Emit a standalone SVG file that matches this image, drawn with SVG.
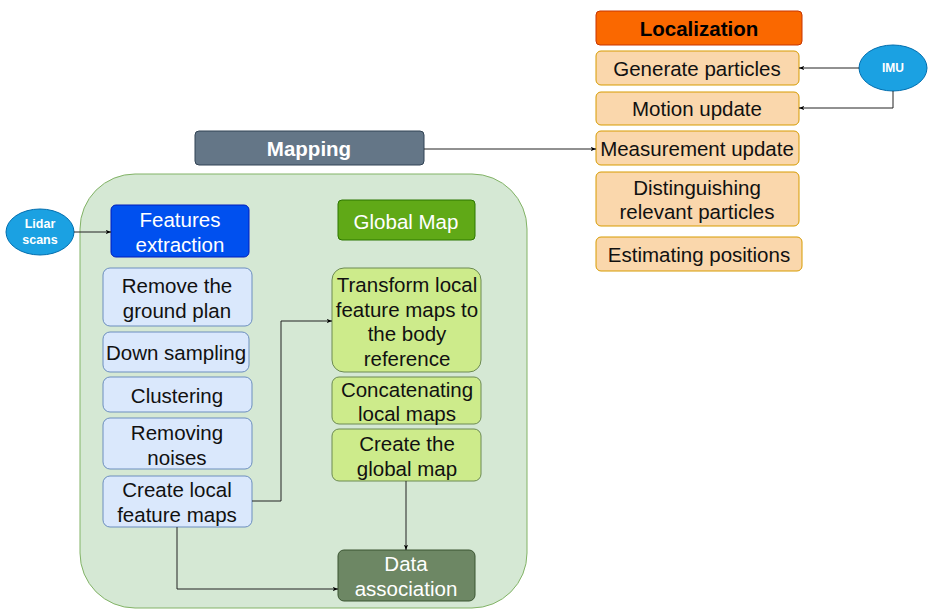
<svg xmlns="http://www.w3.org/2000/svg" width="928" height="609" viewBox="0 0 928 609">
<defs>
<marker id="ah" viewBox="0 0 10 10" refX="9" refY="5" markerWidth="6" markerHeight="6" orient="auto" markerUnits="userSpaceOnUse"><path d="M0,1.5 L9,5 L0,8.5 L2.5,5 Z" fill="#000"/></marker>
<style>
text{font-family:"Liberation Sans",Arial,sans-serif;text-anchor:middle;dominant-baseline:central}
.t{font-size:20.5px;fill:#111}
.w{font-size:20.5px;fill:#fff}
.loc rect{fill:#fad7ac;stroke:#d79b00;stroke-width:1}
.blue rect{fill:#dae8fc;stroke:#6c8ebf;stroke-width:1}
.lg rect{fill:#cdeb8b;stroke:#6c8a52;stroke-width:1}
.conn path{fill:none;stroke:#222;stroke-width:1;marker-end:url(#ah)}
</style>
</defs>
<g id="container"><rect x="80" y="174" width="447" height="434" rx="55" fill="#d5e8d4" stroke="#82b366"/></g>
<g id="localization"><rect x="596" y="11" width="206" height="34" rx="4" fill="#fa6800" stroke="#c73500"/><text x="699" y="28" style="font-size:20.5px;font-weight:bold;fill:#000">Localization</text></g>
<g id="gen" class="loc"><rect x="596" y="51" width="203" height="34" rx="5"/><text class="t" x="697" y="68">Generate particles</text></g>
<g id="motion" class="loc"><rect x="596" y="92" width="203" height="33" rx="5"/><text class="t" x="697" y="108">Motion update</text></g>
<g id="meas" class="loc"><rect x="596" y="131" width="203" height="34" rx="5"/><text class="t" x="697" y="148">Measurement update</text></g>
<g id="dist" class="loc"><rect x="596" y="172" width="203" height="54" rx="5"/><text class="t" x="697" y="187">Distinguishing</text><text class="t" x="697" y="211">relevant particles</text></g>
<g id="est" class="loc"><rect x="596" y="237" width="206" height="34" rx="5"/><text class="t" x="699" y="254">Estimating positions</text></g>
<g id="imu"><ellipse cx="893" cy="68" rx="34" ry="23" fill="#1ba1e2" stroke="#006eaf"/><text x="893" y="68" style="font-size:12px;font-weight:bold;fill:#fff">IMU</text></g>
<g id="mapping"><rect x="195" y="131" width="229" height="34" rx="4" fill="#647687" stroke="#314354"/><text x="309" y="148" style="font-size:20.5px;font-weight:bold;fill:#fff">Mapping</text></g>
<g id="lidar"><ellipse cx="40" cy="232" rx="34" ry="23" fill="#1ba1e2" stroke="#006eaf"/><text x="40" y="224" style="font-size:12.5px;font-weight:bold;fill:#fff">Lidar</text><text x="40" y="240" style="font-size:12.5px;font-weight:bold;fill:#fff">scans</text></g>
<g id="features"><rect x="111" y="205" width="138" height="52" rx="5" fill="#0050ef" stroke="#001dbc"/><text class="w" x="180" y="219">Features</text><text class="w" x="180" y="244">extraction</text></g>
<g id="remove" class="blue"><rect x="103" y="268" width="149" height="58" rx="7"/><text class="t" x="177" y="285">Remove the</text><text class="t" x="177" y="310">ground plan</text></g>
<g id="down" class="blue"><rect x="103" y="332" width="146" height="40" rx="7"/><text class="t" x="176" y="352">Down sampling</text></g>
<g id="cluster" class="blue"><rect x="103" y="377" width="149" height="35" rx="7"/><text class="t" x="177" y="395">Clustering</text></g>
<g id="noises" class="blue"><rect x="103" y="418" width="149" height="51" rx="7"/><text class="t" x="177" y="432">Removing</text><text class="t" x="177" y="457">noises</text></g>
<g id="createlocal" class="blue"><rect x="103" y="476" width="149" height="51" rx="7"/><text class="t" x="177" y="489">Create local</text><text class="t" x="177" y="514">feature maps</text></g>
<g id="globalmap"><rect x="338" y="200" width="137" height="40" rx="4" fill="#60a917" stroke="#2d7600"/><text class="w" x="406" y="221">Global Map</text></g>
<g id="transform" class="lg"><rect x="332" y="268" width="149" height="104" rx="12"/><text class="t" x="407" y="284">Transform local</text><text class="t" x="407" y="309">feature maps to</text><text class="t" x="407" y="333">the body</text><text class="t" x="407" y="358">reference</text></g>
<g id="concat" class="lg"><rect x="332" y="377" width="149" height="47" rx="7"/><text class="t" x="407" y="389">Concatenating</text><text class="t" x="407" y="413">local maps</text></g>
<g id="createglobal" class="lg"><rect x="332" y="429" width="149" height="52" rx="7"/><text class="t" x="407" y="443">Create the</text><text class="t" x="407" y="468">global map</text></g>
<g id="dataassoc"><rect x="338" y="550" width="137" height="51" rx="6" fill="#6d8764" stroke="#3a5431"/><text class="w" x="406" y="563">Data</text><text class="w" x="406" y="588">association</text></g>
<g id="connectors" class="conn">
<path d="M859,68 H799"/>
<path d="M893,91 V108 H799"/>
<path d="M424,149 H596"/>
<path d="M74,232 H111"/>
<path d="M252,501 H281 V321 H332"/>
<path d="M406,481 V550"/>
<path d="M177,527 V589 H338"/>
</g>
</svg>
